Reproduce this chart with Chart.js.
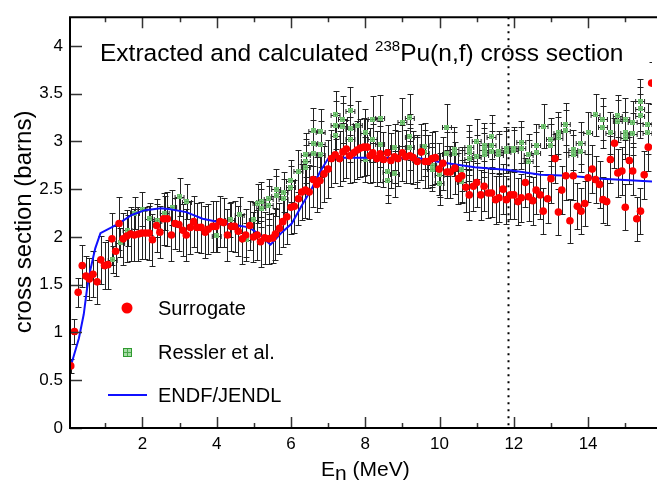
<!DOCTYPE html>
<html>
<head>
<meta charset="utf-8">
<script src="https://cdn.jsdelivr.net/npm/chart.js@4.4.0/dist/chart.umd.min.js"></script>
<style>
  html, body { margin: 0; padding: 0; background: #fff; }
  #wrap { width: 657px; height: 482px; }
</style>
</head>
<body>
<div id="wrap"><canvas id="chart" width="657" height="482"></canvas></div>
<script>
// Surrogate extraction (red dots), energy in MeV, cross section in barns
const surrogateE = [
  0.07, 0.17, 0.27, 0.38, 0.48, 0.57, 0.67, 0.78, 0.88, 0.98,
  1.07, 1.18, 1.28, 1.37, 1.48, 1.58, 1.68, 1.78, 1.89, 1.98,
  2.08, 2.18, 2.27, 2.38, 2.47, 2.57, 2.67, 2.78, 2.88, 2.98,
  3.09, 3.18, 3.29, 3.38, 3.47, 3.58, 3.69, 3.77, 3.89, 3.98,
  4.09, 4.19, 4.29, 4.39, 4.48, 4.58, 4.69, 4.78, 4.89, 4.99,
  5.09, 5.18, 5.29, 5.40, 5.51, 5.58, 5.69, 5.78, 5.89, 6.00,
  6.09, 6.20, 6.29, 6.39, 6.49, 6.60, 6.69, 6.78, 6.89, 7.00,
  7.09, 7.19, 7.31, 7.40, 7.49, 7.58, 7.69, 7.78, 7.87, 7.96,
  8.05, 8.13, 8.20, 8.31, 8.40, 8.49, 8.60, 8.69, 8.79, 8.88,
  9.00, 9.09, 9.20, 9.29, 9.40, 9.51, 9.61, 9.69, 9.80, 9.89,
  9.99, 10.09, 10.20, 10.29, 10.41, 10.51, 10.60, 10.71, 10.80, 10.91,
  11.00, 11.11, 11.20, 11.31, 11.40, 11.51, 11.60, 11.71, 11.80, 11.91,
  12.00, 12.11, 12.20, 12.31, 12.40, 12.51, 12.60, 12.71, 12.79, 12.91,
  13.00, 13.11, 13.20, 13.29, 13.40, 13.51, 13.60, 13.71, 13.81, 13.91,
  14.00, 14.11, 14.20, 14.31, 14.40, 14.50, 14.60, 14.71, 14.80, 14.91,
  15.00, 15.11, 15.20, 15.31, 15.41, 15.51, 15.62, 15.71
];
const surrogateXS = [
  0.65, 1.01, 1.42, 1.70, 1.59, 1.56, 1.61, 1.53, 1.76, 1.70,
  1.71, 1.98, 1.85, 2.14, 1.98, 2.01, 2.03, 2.02, 2.03, 2.04,
  2.04, 2.04, 1.97, 2.12, 2.05, 2.19, 2.19, 2.02, 2.14, 2.13,
  2.07, 2.02, 2.10, 2.16, 2.10, 2.10, 2.05, 2.08, 2.11, 2.11,
  2.16, 2.15, 2.02, 2.11, 2.11, 2.06, 1.98, 2.02, 2.12, 2.00,
  2.02, 1.95, 1.99, 1.98, 1.99, 2.03, 2.09, 2.16, 2.21, 2.31,
  2.32, 2.40, 2.47, 2.49, 2.47, 2.60, 2.55, 2.59, 2.66, 2.71,
  2.82, 2.86, 2.82, 2.89, 2.92, 2.85, 2.88, 2.91, 2.93, 2.94,
  2.94, 2.85, 2.88, 2.82, 2.87, 2.81, 2.88, 2.80, 2.84, 2.82,
  2.88, 2.84, 2.85, 2.83, 2.79, 2.89, 2.79, 2.79, 2.82, 2.83,
  2.71, 2.77, 2.68, 2.68, 2.72, 2.61, 2.64, 2.52, 2.44, 2.53,
  2.57, 2.44, 2.53, 2.46, 2.46, 2.39, 2.41, 2.50, 2.39, 2.44,
  2.44, 2.37, 2.41, 2.57, 2.42, 2.38, 2.49, 2.44, 2.27, 2.40,
  2.61, 2.82, 2.26, 2.49, 2.64, 2.17, 2.64, 2.32, 2.27, 2.35,
  2.62, 2.71, 2.60, 2.55, 2.39, 2.37, 2.81, 2.98, 2.67, 2.69,
  2.31, 2.80, 2.69, 2.19, 2.27, 2.65, 2.94, 3.61
];
const surrogateErr = [
  0.07, 0.13, 0.15, 0.22, 0.21, 0.22, 0.24, 0.23, 0.25, 0.25,
  0.26, 0.27, 0.26, 0.28, 0.27, 0.27, 0.28, 0.27, 0.28, 0.27,
  0.27, 0.28, 0.27, 0.28, 0.27, 0.27, 0.28, 0.27, 0.27, 0.28,
  0.27, 0.27, 0.28, 0.27, 0.26, 0.27, 0.27, 0.26, 0.27, 0.27,
  0.27, 0.26, 0.27, 0.26, 0.27, 0.26, 0.26, 0.27, 0.26, 0.26,
  0.26, 0.26, 0.27, 0.26, 0.26, 0.27, 0.27, 0.27, 0.28, 0.28,
  0.28, 0.28, 0.29, 0.29, 0.28, 0.29, 0.29, 0.29, 0.29, 0.30,
  0.30, 0.30, 0.29, 0.30, 0.30, 0.29, 0.30, 0.30, 0.30, 0.30,
  0.29, 0.29, 0.30, 0.29, 0.29, 0.29, 0.29, 0.29, 0.28, 0.29,
  0.29, 0.28, 0.29, 0.28, 0.28, 0.29, 0.28, 0.28, 0.28, 0.28,
  0.27, 0.28, 0.27, 0.27, 0.27, 0.27, 0.27, 0.26, 0.26, 0.26,
  0.26, 0.26, 0.26, 0.26, 0.25, 0.25, 0.25, 0.26, 0.25, 0.25,
  0.25, 0.25, 0.25, 0.26, 0.25, 0.25, 0.25, 0.25, 0.24, 0.25,
  0.25, 0.26, 0.24, 0.25, 0.25, 0.23, 0.25, 0.24, 0.24, 0.24,
  0.25, 0.25, 0.25, 0.25, 0.24, 0.24, 0.25, 0.26, 0.25, 0.25,
  0.24, 0.25, 0.25, 0.23, 0.24, 0.25, 0.25, 0.22
];
const surrogateDE = 0.05;

// Ressler et al. (green squares)
const resslerE = [
  1.2, 1.4, 1.6, 1.8, 2.0, 2.2, 2.4, 2.6, 2.8, 3.0,
  3.2, 4.0, 4.36, 4.62, 4.8, 5.0, 5.1, 5.2, 5.2, 5.4,
  5.4, 5.6, 5.6, 5.8, 5.8, 6.0, 6.0, 6.2, 6.4, 6.4,
  6.4, 6.6, 6.6, 6.6, 6.8, 6.8, 6.8, 7.2, 7.2, 7.2,
  7.4, 7.4, 7.6, 7.6, 7.6, 7.8, 8.0, 8.0, 8.2, 8.2,
  8.4, 8.4, 8.6, 8.6, 8.8, 8.8, 9.0, 9.2, 9.2, 9.2,
  9.4, 9.6, 9.6, 9.8, 9.8, 10.0, 10.0, 10.2, 10.2, 10.4,
  10.4, 10.6, 10.6, 10.8, 10.8, 10.8, 11.0, 11.0, 11.2, 11.2,
  11.2, 11.4, 11.4, 11.4, 11.6, 11.6, 11.8, 11.8, 12.0, 12.0,
  12.2, 12.2, 12.4, 12.4, 12.6, 12.6, 12.8, 13.0, 13.0, 13.2,
  13.2, 13.4, 13.4, 13.6, 13.6, 13.8, 13.8, 14.0, 14.2, 14.4,
  14.4, 14.6, 14.8, 14.8, 15.0, 15.0, 15.0, 15.2, 15.2, 15.4,
  15.4, 15.4, 15.6, 15.6
];
const resslerXS = [
  1.76, 1.94, 2.07, 2.25, 2.29, 2.19, 2.17, 2.25, 2.31, 2.42,
  2.37, 2.01, 2.18, 2.23, 1.97, 2.18, 2.35, 2.37, 2.30, 2.40,
  2.33, 2.50, 2.43, 2.47, 2.40, 2.59, 2.52, 2.69, 2.86, 2.79,
  2.73, 3.11, 2.98, 2.87, 3.10, 2.97, 2.86, 3.28, 3.17, 3.06,
  3.23, 3.16, 3.32, 3.13, 3.02, 3.17, 3.09, 2.81, 3.23, 3.02,
  3.24, 2.97, 2.68, 2.59, 2.94, 2.66, 3.20, 3.25, 3.05, 2.94,
  2.81, 2.95, 2.88, 2.75, 2.71, 2.65, 2.56, 3.15, 2.87, 2.92,
  2.87, 2.71, 2.58, 2.94, 2.88, 2.82, 3.00, 2.84, 2.96, 2.91,
  2.86, 3.05, 2.96, 2.89, 2.89, 2.86, 2.93, 2.89, 2.93, 2.90,
  2.99, 2.93, 2.86, 2.79, 2.96, 2.88, 3.16, 3.02, 2.96, 3.09,
  3.04, 3.18, 3.11, 2.91, 2.86, 2.98, 2.89, 3.09, 3.28, 3.23,
  3.15, 3.09, 3.27, 3.21, 3.23, 3.09, 3.04, 3.20, 3.08, 3.42,
  3.34, 3.27, 3.18, 3.09
];
const resslerErr = [
  0.14, 0.15, 0.16, 0.17, 0.18, 0.17, 0.17, 0.18, 0.18, 0.20,
  0.18, 0.17, 0.18, 0.19, 0.18, 0.19, 0.20, 0.20, 0.20, 0.21,
  0.20, 0.21, 0.21, 0.21, 0.21, 0.22, 0.22, 0.22, 0.23, 0.23,
  0.23, 0.24, 0.24, 0.23, 0.24, 0.24, 0.23, 0.25, 0.25, 0.24,
  0.25, 0.24, 0.25, 0.25, 0.24, 0.25, 0.25, 0.24, 0.25, 0.24,
  0.25, 0.24, 0.24, 0.24, 0.24, 0.24, 0.25, 0.25, 0.24, 0.24,
  0.24, 0.24, 0.24, 0.23, 0.23, 0.23, 0.23, 0.24, 0.23, 0.23,
  0.23, 0.23, 0.23, 0.23, 0.23, 0.23, 0.23, 0.23, 0.23, 0.23,
  0.23, 0.23, 0.23, 0.22, 0.22, 0.22, 0.22, 0.22, 0.22, 0.22,
  0.22, 0.22, 0.22, 0.22, 0.22, 0.22, 0.23, 0.22, 0.22, 0.22,
  0.22, 0.22, 0.22, 0.21, 0.21, 0.22, 0.21, 0.22, 0.22, 0.22,
  0.22, 0.22, 0.22, 0.22, 0.22, 0.22, 0.22, 0.22, 0.22, 0.23,
  0.23, 0.23, 0.22, 0.22
];
const resslerDE = 0.12;

// ENDF/JENDL evaluation (blue line)
const endfE = [
  0.05, 0.20, 0.29, 0.42, 0.51, 0.60, 0.73, 0.87, 1.36, 1.71,
  2.07, 2.50, 2.75, 3.18, 3.62, 4.24, 4.87, 5.10, 5.27, 5.45,
  5.76, 6.02, 6.29, 6.55, 6.78, 7.00, 7.20, 7.60, 8.50, 9.50,
  10.07, 10.95, 11.85, 12.73, 13.49, 14.38, 15.72
];
const endfXS = [
  0.62, 0.82, 0.94, 1.19, 1.46, 1.66, 1.88, 2.04, 2.14, 2.23,
  2.28, 2.30, 2.29, 2.26, 2.19, 2.14, 2.10, 2.04, 1.98, 1.92,
  2.05, 2.14, 2.33, 2.50, 2.68, 2.82, 2.83, 2.83, 2.83, 2.82,
  2.78, 2.73, 2.70, 2.65, 2.64, 2.61, 2.58
];

const thresholdE = 11.83;
const legendLabels = ["Surrogate", "Ressler et al.", "ENDF/JENDL"];

const FONT = '"Liberation Sans", Arial, Helvetica, sans-serif';
const RED = "#ff0000";
const BLUE = "#1010ff";

function toPoints(xs, ys) {
  return xs.map((x, i) => ({ x: x, y: ys[i] }));
}

// small green square with a light cross, used for Ressler points
function makeGreenMarker(size, edge) {
  const c = document.createElement("canvas");
  c.width = size;
  c.height = size;
  const g = c.getContext("2d");
  g.fillStyle = "#a6dca6";
  g.fillRect(0, 0, size, size);
  g.strokeStyle = edge;
  g.lineWidth = 1;
  g.strokeRect(0.5, 0.5, size - 1, size - 1);
  g.beginPath();
  g.moveTo(Math.floor(size / 2) + 0.5, 1);
  g.lineTo(Math.floor(size / 2) + 0.5, size - 1);
  g.moveTo(1, Math.floor(size / 2) + 0.5);
  g.lineTo(size - 1, Math.floor(size / 2) + 0.5);
  g.strokeStyle = "#4aa84a";
  g.stroke();
  return c;
}
const greenMarker = makeGreenMarker(5, "#6cbf6c");
const greenLegendMarker = makeGreenMarker(9, "#2f9a2f");

function drawBars(ctx, x, y, es, vs, errs, de) {
  ctx.beginPath();
  es.forEach((e, i) => {
    const px = Math.round(x.getPixelForValue(e)) + 0.5;
    const py = Math.round(y.getPixelForValue(vs[i])) + 0.5;
    const top = Math.round(y.getPixelForValue(vs[i] + errs[i])) + 0.5;
    const bot = Math.round(y.getPixelForValue(vs[i] - errs[i])) + 0.5;
    const l = x.getPixelForValue(e - de);
    const r = x.getPixelForValue(e + de);
    ctx.moveTo(px, top); ctx.lineTo(px, bot);
    ctx.moveTo(px - 3, top); ctx.lineTo(px + 3, top);
    ctx.moveTo(px - 3, bot); ctx.lineTo(px + 3, bot);
    ctx.moveTo(l, py); ctx.lineTo(r, py);
    ctx.moveTo(l, py - 2.5); ctx.lineTo(l, py + 2.5);
    ctx.moveTo(r, py - 2.5); ctx.lineTo(r, py + 2.5);
  });
  ctx.stroke();
}

const errorBars = {
  id: "errorBars",
  beforeDatasetsDraw(chart) {
    const { ctx, chartArea: a, scales: { x, y } } = chart;
    ctx.save();
    ctx.beginPath();
    ctx.rect(a.left, a.top, a.right - a.left, a.bottom - a.top);
    ctx.clip();

    // dotted threshold line
    const tx = Math.round(x.getPixelForValue(thresholdE)) + 0.5;
    ctx.strokeStyle = "#000";
    ctx.lineWidth = 2;
    ctx.setLineDash([2, 5]);
    ctx.beginPath();
    ctx.moveTo(tx, a.top);
    ctx.lineTo(tx, a.bottom);
    ctx.stroke();
    ctx.setLineDash([]);

    ctx.strokeStyle = "#222";
    ctx.lineWidth = 1;
    drawBars(ctx, x, y, resslerE, resslerXS, resslerErr, resslerDE);
    drawBars(ctx, x, y, surrogateE, surrogateXS, surrogateErr, surrogateDE);
    ctx.restore();
  }
};

const frameAndText = {
  id: "frameAndText",
  afterDraw(chart) {
    const { ctx, chartArea: a, scales: { x, y } } = chart;
    ctx.save();

    // inward ticks
    ctx.strokeStyle = "#333";
    ctx.lineWidth = 1.5;
    ctx.beginPath();
    x.ticks.forEach(t => {
      const px = Math.round(x.getPixelForValue(t.value)) + 0.5;
      const len = t.value % 2 === 0 ? 11 : 5;
      ctx.moveTo(px, a.bottom); ctx.lineTo(px, a.bottom - len);
      ctx.moveTo(px, a.top); ctx.lineTo(px, a.top + len);
    });
    y.ticks.forEach(t => {
      const py = Math.round(y.getPixelForValue(t.value)) + 0.5;
      ctx.moveTo(a.left, py); ctx.lineTo(a.left + 12, py);
    });
    ctx.stroke();

    // frame (right side is off the page)
    ctx.strokeStyle = "#000";
    ctx.lineWidth = 2;
    ctx.beginPath();
    ctx.moveTo(a.right + 5, a.top);
    ctx.lineTo(a.left, a.top);
    ctx.lineTo(a.left, a.bottom);
    ctx.lineTo(a.right + 5, a.bottom);
    ctx.stroke();

    ctx.fillStyle = "#000";
    ctx.textBaseline = "alphabetic";
    ctx.textAlign = "left";

    // title with superscript mass number
    let tx = 100;
    const ty = 61;
    const part1 = "Extracted and calculated ";
    ctx.font = "24.5px " + FONT;
    ctx.fillText(part1, tx, ty);
    tx += ctx.measureText(part1).width;
    ctx.font = "15px " + FONT;
    ctx.fillText("238", tx, ty - 10);
    tx += ctx.measureText("238").width;
    ctx.font = "24.5px " + FONT;
    ctx.fillText("Pu(n,f) cross section", tx, ty);

    // x axis title: E with subscript n
    let ex = 321;
    const ey = 476;
    ctx.font = "21px " + FONT;
    ctx.fillText("E", ex, ey);
    ex += ctx.measureText("E").width;
    ctx.fillText("n", ex, ey + 4);
    ex += ctx.measureText("n").width;
    ctx.fillText(" (MeV)", ex, ey);

    // y axis title
    ctx.save();
    ctx.translate(31, 222);
    ctx.rotate(-Math.PI / 2);
    ctx.textAlign = "center";
    ctx.font = "24px " + FONT;
    ctx.fillText("cross section (barns)", 0, 0);
    ctx.restore();

    // legend
    ctx.font = "20px " + FONT;
    ctx.textBaseline = "middle";
    ctx.fillStyle = RED;
    ctx.beginPath();
    ctx.arc(127, 308, 5.5, 0, Math.PI * 2);
    ctx.fill();
    ctx.drawImage(greenLegendMarker, 123, 348);
    ctx.strokeStyle = BLUE;
    ctx.lineWidth = 2;
    ctx.beginPath();
    ctx.moveTo(108, 395);
    ctx.lineTo(147, 395);
    ctx.stroke();
    ctx.fillStyle = "#000";
    ctx.fillText(legendLabels[0], 158, 309);
    ctx.fillText(legendLabels[1], 158, 353);
    ctx.fillText(legendLabels[2], 158, 396);

    ctx.restore();
  }
};

new Chart(document.getElementById("chart"), {
  type: "scatter",
  data: {
    datasets: [
      {
        label: legendLabels[0],
        data: toPoints(surrogateE, surrogateXS),
        backgroundColor: RED,
        borderColor: RED,
        pointRadius: 3.8,
        borderWidth: 0
      },
      {
        label: legendLabels[2],
        type: "line",
        data: toPoints(endfE, endfXS),
        borderColor: BLUE,
        borderWidth: 2,
        pointRadius: 0,
        fill: false,
        tension: 0
      },
      {
        label: legendLabels[1],
        data: toPoints(resslerE, resslerXS),
        pointStyle: greenMarker,
        pointRadius: 2.5
      }
    ]
  },
  options: {
    responsive: false,
    animation: false,
    devicePixelRatio: 1,
    layout: { padding: { top: 14, right: 0, left: 0, bottom: 0 } },
    plugins: {
      legend: { display: false },
      tooltip: { enabled: false },
      title: { display: false }
    },
    scales: {
      x: {
        type: "linear",
        min: 0.05,
        max: 15.72,
        grid: { display: false, drawTicks: false },
        border: { display: false },
        afterFit: s => { s.height = 54; },
        ticks: {
          stepSize: 1,
          includeBounds: false,
          autoSkip: false,
          maxRotation: 0,
          padding: 6,
          color: "#000",
          font: { family: FONT, size: 17 },
          callback: v => (Number.isInteger(v) && v % 2 === 0 ? String(v) : "")
        }
      },
      y: {
        type: "linear",
        min: 0,
        max: 4.3,
        grid: { display: false, drawTicks: false },
        border: { display: false },
        afterFit: s => { s.width = 70; },
        ticks: {
          stepSize: 0.5,
          includeBounds: false,
          padding: 7,
          color: "#000",
          font: { family: FONT, size: 17 },
          callback: v => String(v)
        }
      }
    }
  },
  plugins: [errorBars, frameAndText]
});
</script>
</body>
</html>
